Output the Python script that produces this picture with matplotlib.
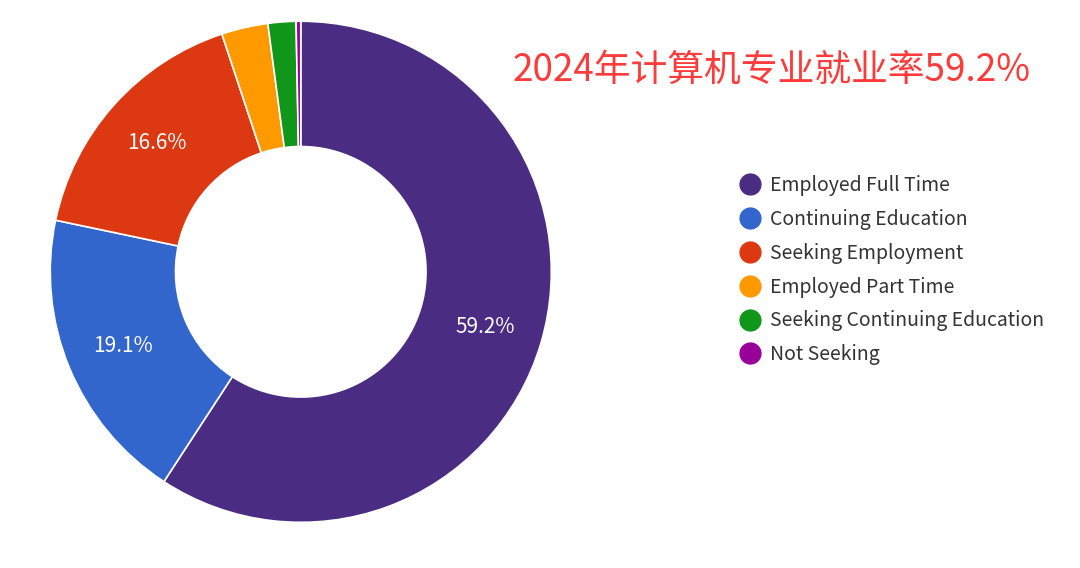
import matplotlib
matplotlib.use('Agg')
import matplotlib.pyplot as plt
from matplotlib.lines import Line2D

plt.rcParams['font.family'] = ['Noto Sans CJK SC', 'DejaVu Sans']

categories = ['Employed Full Time', 'Continuing Education', 'Seeking Employment',
              'Employed Part Time', 'Seeking Continuing Education', 'Not Seeking']
values = [59.2, 19.1, 16.6, 3.0, 1.8, 0.3]
colors = ['#4B2C83', '#3366CC', '#DC3912', '#FF9900', '#109618', '#990099']
title = '2024年计算机专业就业率59.2%'

fig = plt.figure(figsize=(10.8, 5.68), dpi=100)
ax = fig.add_axes([0.044, 0.076, 0.469, 0.891])
wedges, texts, autotexts = ax.pie(
    values, colors=colors, startangle=90, counterclock=False,
    autopct=lambda p: f'{p:.1f}%' if p > 5 else '', pctdistance=0.77,
    wedgeprops=dict(width=0.5, edgecolor='white', linewidth=1.2),
    textprops=dict(color='white', fontsize=15))
ax.set_aspect('equal')
ax.set_xlim(-1.01, 1.01)
ax.set_ylim(-1.01, 1.01)

fig.text(772/1080, 1 - 70/568, title, color='#FF3B3B', fontsize=26.5,
         ha='center', va='center')

handles = [Line2D([0], [0], marker='o', linestyle='', markersize=15,
                  markerfacecolor=c, markeredgecolor=c) for c in colors]
fig.legend(handles, categories, loc='upper left',
           bbox_to_anchor=(731/1080, 1 - 175/568), frameon=False,
           fontsize=14, labelspacing=0.66, handletextpad=0.0,
           borderpad=0, borderaxespad=0, labelcolor='#333333')

fig.savefig('out.png', dpi=100)
